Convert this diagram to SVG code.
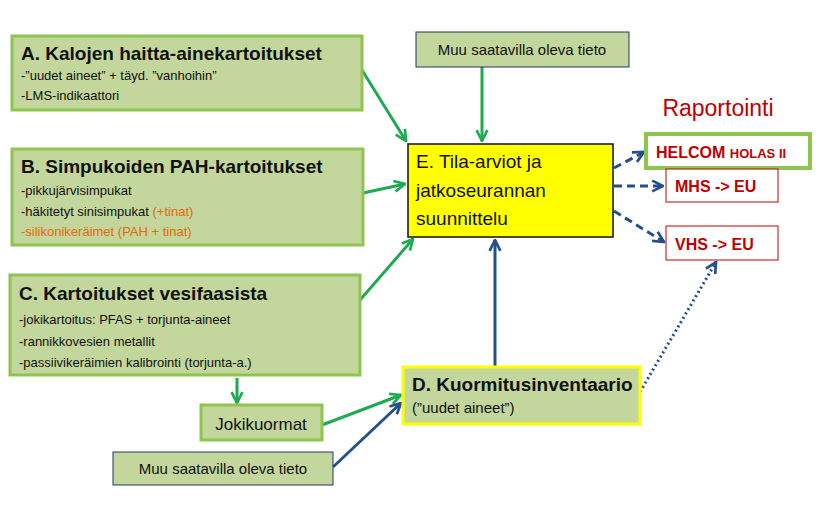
<svg xmlns="http://www.w3.org/2000/svg" width="821" height="529" viewBox="0 0 821 529">
<style>
text{font-family:"Liberation Sans",Arial,sans-serif}
.g{fill:#c3d69b;stroke:#8dc550;stroke-width:3}
.t{font-weight:bold;font-size:19px;fill:#111}
.s{font-size:13px;fill:#111}
.o{font-size:13px;fill:#e46c0a}
.r{font-weight:bold;font-size:16px;fill:#c00000}
.ga{stroke:#1eaa50;stroke-width:3;fill:none;marker-end:url(#ag)}
.ba{stroke:#254f8a;stroke-width:3;fill:none;marker-end:url(#ab)}
.bd{stroke:#254f8a;stroke-width:3;fill:none;stroke-dasharray:8 5;marker-end:url(#ab)}
</style>
<defs>
<marker id="ag" viewBox="0 0 10 10" refX="9" refY="5" markerWidth="4.5" markerHeight="4.5" orient="auto"><path d="M1,1 L9,5 L1,9" fill="none" stroke="#1eaa50" stroke-width="2"/></marker>
<marker id="ab" viewBox="0 0 10 10" refX="9" refY="5" markerWidth="4.5" markerHeight="4.5" orient="auto"><path d="M1,1 L9,5 L1,9" fill="none" stroke="#254f8a" stroke-width="2"/></marker>
</defs>
<rect width="821" height="529" fill="#fff"/>
<g id="connectors">
<path class="ga" d="M362,70 L406,141"/>
<path class="ga" d="M363,193 L405,184"/>
<path class="ga" d="M360,300 L413,239"/>
<path class="ga" d="M482,67 L482,141"/>
<path class="ga" d="M237,378 L237,403"/>
<path class="ga" d="M322,425 L401,395"/>
<path class="ba" d="M333,467 L401,403"/>
<path class="ba" d="M495,367 L495,240"/>
<path class="bd" d="M614,168 L644,152"/>
<path class="bd" d="M614,186 L663,186"/>
<path class="bd" d="M614,211 L664,242"/>
<path d="M640,392 L716,262" stroke="#254f8a" stroke-width="3" stroke-dasharray="2 3" fill="none" marker-end="url(#ab)"/>
</g>
<g id="A"><rect class="g" x="12" y="36" width="350" height="74"/>
<text class="t" x="21" y="60">A.  Kalojen haitta-ainekartoitukset</text>
<text class="s" x="21" y="80">-”uudet aineet” + täyd. ”vanhoihin”</text>
<text class="s" x="21" y="100">-LMS-indikaattori</text></g>
<g id="B"><rect class="g" x="12" y="149" width="351" height="96"/>
<text class="t" x="21" y="173">B. Simpukoiden PAH-kartoitukset</text>
<text class="s" x="21" y="195">-pikkujärvisimpukat</text>
<text class="s" x="21" y="216">-häkitetyt sinisimpukat <tspan fill="#e46c0a">(+tinat)</tspan></text>
<text class="o" x="21" y="236">-silikonikeräimet  (PAH + tinat)</text></g>
<g id="C"><rect class="g" x="10" y="275" width="350" height="100"/>
<text class="t" x="19" y="300">C. Kartoitukset vesifaasista</text>
<text class="s" x="19" y="324">-jokikartoitus:  PFAS + torjunta-aineet</text>
<text class="s" x="19" y="346">-rannikkovesien  metallit</text>
<text class="s" x="19" y="367">-passiivikeräimien kalibrointi  (torjunta-a.)</text></g>
<g id="Jokikuormat"><rect class="g" x="201" y="405" width="121" height="35"/>
<text x="261" y="430" text-anchor="middle" font-size="17" fill="#111">Jokikuormat</text></g>
<g id="Muu2"><rect x="113" y="452" width="220" height="33" fill="#c3d69b" stroke="#1f3864" stroke-width="1"/>
<text x="223" y="474" text-anchor="middle" font-size="15" fill="#111">Muu saatavilla oleva tieto</text></g>
<g id="Muu1"><rect x="416" y="32" width="213" height="35" fill="#c3d69b" stroke="#1f3864" stroke-width="1"/>
<text x="522" y="55" text-anchor="middle" font-size="15" fill="#111">Muu saatavilla oleva tieto</text></g>
<g id="D"><rect x="403" y="367" width="237" height="57" fill="#c3d69b" stroke="#ffff00" stroke-width="3"/>
<text class="t" x="412" y="391" font-size="17">D. Kuormitusinventaario</text>
<text x="412" y="413" font-size="15" fill="#111">(”uudet aineet”)</text></g>
<g id="E"><rect x="408" y="144" width="205" height="93" fill="#ffff00" stroke="#111" stroke-width="1.5"/>
<text x="416" y="168" font-size="19" fill="#111">E. Tila-arviot  ja</text>
<text x="416" y="197" font-size="19" fill="#111">jatkoseurannan</text>
<text x="416" y="225" font-size="19" fill="#111">suunnittelu</text></g>
<g id="Raportointi"><text x="718" y="116" text-anchor="middle" font-size="23" fill="#c00000">Raportointi</text></g>
<g id="HELCOM"><rect x="646" y="134" width="164" height="34" fill="#fff" stroke="#8dc550" stroke-width="4"/>
<text class="r" x="656" y="158">HELCOM <tspan font-size="13">HOLAS II</tspan></text></g>
<g id="MHS"><rect x="666" y="169" width="112" height="33" fill="#fff" stroke="#c00000" stroke-width="1"/>
<text class="r" x="675" y="192">MHS -&gt; EU</text></g>
<g id="VHS"><rect x="666" y="226" width="112" height="34" fill="#fff" stroke="#c00000" stroke-width="1"/>
<text class="r" x="675" y="250">VHS -&gt; EU</text></g>
</svg>
